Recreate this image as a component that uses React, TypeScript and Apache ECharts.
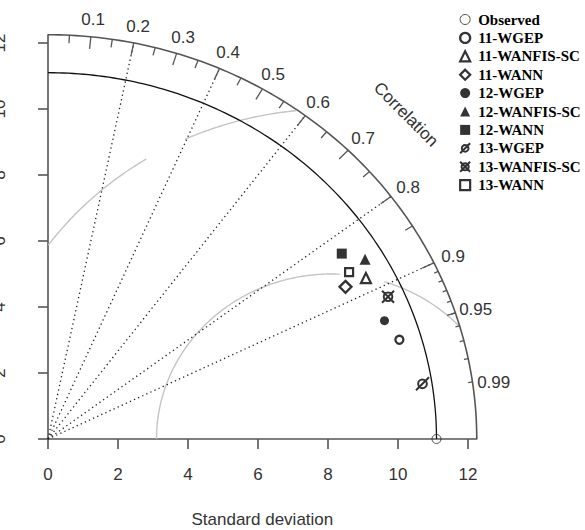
import React, { useEffect, useRef } from "react";
import * as echarts from "echarts";

// ---------------- data ----------------
const modelNames = [
  "11-WGEP",
  "11-WANFIS-SC",
  "11-WANN",
  "12-WGEP",
  "12-WANFIS-SC",
  "12-WANN",
  "13-WGEP",
  "13-WANFIS-SC",
  "13-WANN",
];
const modelSD = [10.48, 10.31, 9.67, 10.26, 10.57, 10.1, 10.83, 10.63, 9.98];
const modelCorr = [0.958, 0.881, 0.879, 0.937, 0.857, 0.831, 0.988, 0.914, 0.862];
const observedName = "Observed";
const observedSD = 11.1;
const maxSD = 12.25;
const sdTicks = [0, 2, 4, 6, 8, 10, 12];
const corrLabels = [0.1, 0.2, 0.3, 0.4, 0.5, 0.6, 0.7, 0.8, 0.9, 0.95, 0.99];
const corrBigTicks = [0.1, 0.2, 0.3, 0.4, 0.5, 0.6, 0.7, 0.8, 0.9];
const corrMedTicks = [0.05, 0.15, 0.25, 0.35, 0.45, 0.55, 0.65, 0.75, 0.85, 0.95];
const corrSmallTicks = [0.91, 0.92, 0.93, 0.94, 0.95, 0.96, 0.97, 0.98, 0.99];
const corrRays = [0.2, 0.4, 0.6, 0.8, 0.9];
const rmsCenter = 8.1;
const rmsRadii = [10, 5];
const rmsGaps = [
  [2.87, 3.9],
  [8.34, 9.58],
];

// ---------------- helpers (geometry) ----------------
const SERIF = "'Liberation Serif', 'Times New Roman', serif";
const SANS = "'Liberation Sans', Arial, sans-serif";
const AXIS_COL = "#555";
const TEXT_COL = "#333";

function quarterArc(r: number): number[][] {
  const pts: number[][] = [];
  const n = 120;
  for (let i = 0; i <= n; i++) {
    const a = (Math.PI / 2) * (i / n);
    pts.push([r * Math.cos(a), r * Math.sin(a)]);
  }
  return pts;
}

function rmsArcSegments(r: number, gap: number[]): number[][][] {
  const segs: number[][][] = [];
  let cur: number[][] = [];
  const n = 400;
  for (let i = 0; i <= n; i++) {
    const a = Math.PI * (i / n);
    const x = rmsCenter + r * Math.cos(a);
    const y = r * Math.sin(a);
    const inside = x >= 0 && y >= 0 && x * x + y * y <= maxSD * maxSD && !(x > gap[0] && x < gap[1]);
    if (inside) cur.push([x, y]);
    else if (cur.length) {
      segs.push(cur);
      cur = [];
    }
  }
  if (cur.length) segs.push(cur);
  return segs;
}

const slashCircle =
  "path://M-5 0A5 5 0 1 1 5 0A5 5 0 1 1 -5 0ZM-7.5 7.5L7.5 -7.5";
const crossCircle =
  "path://M-5 0A5 5 0 1 1 5 0A5 5 0 1 1 -5 0ZM-7 7L7 -7M-7 -7L7 7";

const markerStyles: any[] = [
  { symbol: "circle", size: 8, fill: "transparent", bw: 2.3 },
  { symbol: "triangle", size: 10, fill: "transparent", bw: 2.2 },
  { symbol: "diamond", size: 12, fill: "transparent", bw: 2.3 },
  { symbol: "circle", size: 9, fill: "#000", bw: 0 },
  { symbol: "triangle", size: 11, fill: "#000", bw: 0 },
  { symbol: "rect", size: 10, fill: "#000", bw: 0 },
  { symbol: slashCircle, size: 13, fill: "transparent", bw: 2 },
  { symbol: crossCircle, size: 12, fill: "transparent", bw: 2 },
  { symbol: "rect", size: 8, fill: "transparent", bw: 2.2 },
];

export default function App() {
  const ref = useRef<HTMLDivElement>(null);
  useEffect(() => {
    if (!ref.current) return;
    const chart = echarts.init(ref.current, null, { renderer: "svg" });

    const series: any[] = [];
    const lineS = (name: string, data: number[][], lineStyle: any) => ({
      type: "line",
      name,
      data,
      showSymbol: false,
      symbol: "none",
      silent: true,
      clip: false,
      lineStyle,
      z: 1,
    });

    // grey centred RMS arcs
    rmsRadii.forEach((r, i) => {
      rmsArcSegments(r, rmsGaps[i]).forEach((seg, j) => {
        series.push(lineS(`rms-${i}-${j}`, seg, { color: "#c4c4c4", width: 1.4 }));
      });
    });
    // correlation rays
    corrRays.forEach((c, i) => {
      const s = Math.sqrt(1 - c * c);
      series.push(
        lineS(`ray-${i}`, [
          [0, 0],
          [maxSD * c, maxSD * s],
        ], { color: "#222", width: 1.3, type: [1.3, 3.2] })
      );
    });
    // outer arc & reference arc
    series.push(lineS("outer-arc", quarterArc(maxSD), { color: AXIS_COL, width: 1.6 }));
    series.push(lineS("ref-arc", quarterArc(observedSD), { color: "#111", width: 1.3 }));

    // correlation ticks
    const tickData = [
      ...corrBigTicks.map((c) => [c, 0.97]),
      ...corrMedTicks.map((c) => [c, 0.98]),
      ...corrSmallTicks.map((c) => [c, 0.99]),
    ];
    series.push({
      type: "custom",
      name: "corr-ticks",
      coordinateSystem: "cartesian2d",
      silent: true,
      clip: false,
      data: tickData,
      renderItem: (_p: any, api: any) => {
        const c = api.value(0) as number;
        const f = api.value(1) as number;
        const s = Math.sqrt(1 - c * c);
        const p1 = api.coord([maxSD * c, maxSD * s]);
        const p2 = api.coord([f * maxSD * c, f * maxSD * s]);
        return {
          type: "line",
          shape: { x1: p1[0], y1: p1[1], x2: p2[0], y2: p2[1] },
          style: { stroke: AXIS_COL, lineWidth: 1.3 },
        };
      },
    });
    // correlation labels
    series.push({
      type: "custom",
      name: "corr-labels",
      coordinateSystem: "cartesian2d",
      silent: true,
      clip: false,
      data: corrLabels.map((c) => [c, 0]),
      renderItem: (_p: any, api: any) => {
        const c = api.value(0) as number;
        const s = Math.sqrt(1 - c * c);
        const p = api.coord([1.05 * maxSD * c, 1.05 * maxSD * s]);
        return {
          type: "text",
          x: p[0],
          y: p[1] + 3,
          style: {
            text: String(c),
            fill: TEXT_COL,
            fontSize: 17,
            fontFamily: SANS,
            align: "center",
            verticalAlign: "middle",
          },
        };
      },
    });
    // "Correlation" title
    series.push({
      type: "custom",
      name: "corr-title",
      coordinateSystem: "cartesian2d",
      silent: true,
      clip: false,
      data: [[10.2, 9.9]],
      renderItem: (_p: any, api: any) => {
        const p = api.coord([api.value(0), api.value(1)]);
        return {
          type: "text",
          x: p[0] + 1,
          y: p[1] + 2,
          rotation: -Math.PI / 4,
          style: {
            text: "Correlation",
            fill: TEXT_COL,
            fontSize: 17,
            fontFamily: SANS,
            align: "center",
            verticalAlign: "middle",
          },
        };
      },
    });

    // observed point
    series.push({
      type: "scatter",
      name: observedName,
      data: [[observedSD, 0]],
      symbol: "circle",
      symbolSize: 9,
      clip: false,
      z: 5,
      itemStyle: { color: "transparent", borderColor: "#222", borderWidth: 1 },
    });
    // model points
    modelNames.forEach((name, i) => {
      const sd = modelSD[i];
      const c = modelCorr[i];
      const m = markerStyles[i];
      series.push({
        type: "scatter",
        name,
        data: [[sd * c, sd * Math.sqrt(1 - c * c)]],
        symbol: m.symbol,
        symbolSize: m.size,
        symbolKeepAspect: true,
        clip: false,
        z: 5,
        itemStyle: {
          color: m.fill,
          borderColor: "#000",
          borderWidth: m.bw,
        },
      });
    });

    const legendData = [
      { name: observedName, itemStyle: { borderWidth: 1 } },
      ...modelNames.map((n, i) => ({
        name: n,
        itemStyle: { borderWidth: markerStyles[i].bw },
      })),
    ];

    chart.setOption({
      animation: false,
      grid: {
        left: 48,
        right: 585 - 48 - maxSD * 35,
        top: 439 - maxSD * 33,
        bottom: 91,
        containLabel: false,
        outerBoundsMode: "none",
      },
      xAxis: {
        type: "value",
        min: 0,
        max: maxSD,
        splitLine: { show: false },
        axisLine: { onZero: false, lineStyle: { color: AXIS_COL, width: 1.6 } },
        axisTick: { customValues: sdTicks, length: 10, lineStyle: { color: AXIS_COL, width: 1.6 } },
        axisLabel: {
          customValues: sdTicks,
          fontSize: 17,
          fontFamily: SANS,
          color: TEXT_COL,
          margin: 27,
        },
        name: "Standard deviation",
        nameLocation: "middle",
        nameGap: 72,
        nameTextStyle: { fontSize: 17, fontFamily: SANS, color: TEXT_COL },
      },
      yAxis: {
        type: "value",
        min: 0,
        max: maxSD,
        splitLine: { show: false },
        axisLine: { onZero: false, lineStyle: { color: AXIS_COL, width: 1.6 } },
        axisTick: { customValues: sdTicks, length: 10, lineStyle: { color: AXIS_COL, width: 1.6 } },
        axisLabel: {
          customValues: sdTicks,
          fontSize: 17,
          fontFamily: SANS,
          color: TEXT_COL,
          rotate: 90,
          margin: 40,
        },
      },
      legend: {
        data: legendData,
        orient: "vertical",
        left: 459,
        top: 12,
        padding: 0,
        itemWidth: 10,
        itemHeight: 10,
        itemGap: 3.4,
        selectedMode: false,
        textStyle: {
          fontFamily: SERIF,
          fontWeight: "bold",
          fontSize: 15,
          color: "#000",
          padding: [0, 0, 0, 3],
        },
      },
      series,
    });
    return () => chart.dispose();
  }, []);
  return (
    <div
      ref={ref}
      style={{ position: "absolute", left: 0, top: 0, width: 585, height: 530, background: "#fff" }}
    />
  );
}
